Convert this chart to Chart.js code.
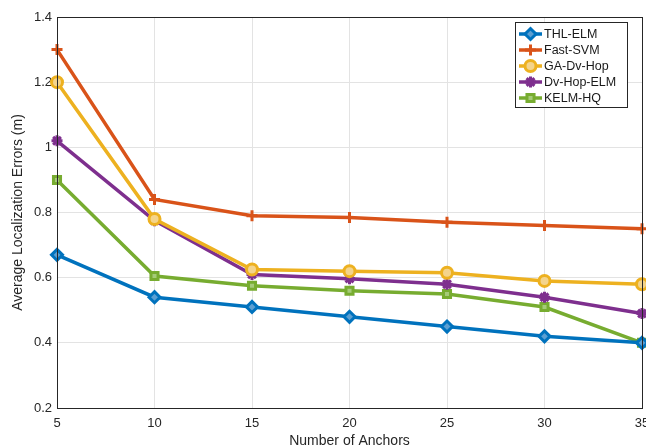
<!DOCTYPE html>
<html>
<head>
<meta charset="utf-8">
<script src="https://cdn.jsdelivr.net/npm/chart.js@4/dist/chart.umd.min.js"></script>
<style>
  html, body { margin: 0; padding: 0; background: #fff; }
  canvas { display: block; }
</style>
</head>
<body>
<canvas id="chart" width="646" height="448"></canvas>
<script>
// number of anchors (x axis)
const anchors = [5, 10, 15, 20, 25, 30, 35];

// average localization errors (m)
const thlElm    = [0.67, 0.54, 0.51, 0.48, 0.45, 0.42, 0.40];
const fastSvm   = [1.30, 0.84, 0.79, 0.785, 0.77, 0.76, 0.75];
const gaDvHop   = [1.20, 0.78, 0.625, 0.62, 0.615, 0.59, 0.58];
const dvHopElm  = [1.02, 0.775, 0.61, 0.597, 0.58, 0.54, 0.49];
const kelmHq    = [0.90, 0.605, 0.575, 0.56, 0.55, 0.51, 0.40];

const seriesNames = ['THL-ELM', 'Fast-SVM', 'GA-Dv-Hop', 'Dv-Hop-ELM', 'KELM-HQ'];
const yTickLabels = ['0.2', '0.4', '0.6', '0.8', '1', '1.2', '1.4'];
const xTickLabels = ['5', '10', '15', '20', '25', '30', '35'];

const colors = ['#0072BD', '#D95319', '#EDB120', '#7E2F8E', '#77AC30'];
const fills  = ['#5c9fd2', '#e38a64', '#f4d48c', '#a97bb3', '#a5cb78'];
const markers = ['rectRot', 'cross', 'circle', 'star', 'rect'];
const radii = [5.5, 5.5, 5.5, 5.5, 5];

const allSeries = [thlElm, fastSvm, gaDvHop, dvHopElm, kelmHq];

const datasets = allSeries.map((vals, i) => ({
  label: seriesNames[i],
  data: anchors.map((a, j) => ({ x: a, y: vals[j] })),
  borderColor: colors[i],
  backgroundColor: fills[i],
  borderWidth: 3.5,
  pointStyle: markers[i],
  pointRadius: radii[i],
  pointBorderWidth: 3,
  pointBorderColor: colors[i],
  pointBackgroundColor: fills[i],
  tension: 0,
  clip: false
}));

// box around the plot and the inside legend
const boxAndLegend = {
  id: 'boxAndLegend',
  afterDraw(chart) {
    const ctx = chart.ctx;
    const a = chart.chartArea;
    ctx.save();
    ctx.strokeStyle = '#262626';
    ctx.lineWidth = 1;
    ctx.strokeRect(Math.round(a.left) + 0.5, Math.round(a.top) + 0.5,
                   Math.round(a.right - a.left), Math.round(a.bottom - a.top));

    // legend
    const lx = 515, ly = 22, lw = 112, lh = 85;
    ctx.fillStyle = '#fff';
    ctx.fillRect(lx, ly, lw, lh);
    ctx.strokeStyle = '#262626';
    ctx.strokeRect(lx + 0.5, ly + 0.5, lw, lh);
    ctx.font = '12.5px "Liberation Sans", Arial, sans-serif';
    ctx.textBaseline = 'middle';
    chart.data.datasets.forEach((ds, i) => {
      const y = ly + 12 + i * 16;
      ctx.strokeStyle = ds.borderColor;
      ctx.lineWidth = 3.5;
      ctx.beginPath();
      ctx.moveTo(lx + 4, y);
      ctx.lineTo(lx + 27, y);
      ctx.stroke();
      ctx.lineWidth = ds.pointBorderWidth;
      ctx.fillStyle = ds.pointBackgroundColor;
      Chart.helpers.drawPoint(ctx, {
        pointStyle: ds.pointStyle, radius: ds.pointRadius,
        borderWidth: ds.pointBorderWidth, rotation: 0
      }, lx + 15.5, y);
      ctx.fillStyle = '#1a1a1a';
      ctx.fillText(ds.label, lx + 29, y + 1);
    });
    ctx.restore();
  }
};

const tickFont = { family: '"Liberation Sans", Arial, sans-serif', size: 13 };
const titleFont = { family: '"Liberation Sans", Arial, sans-serif', size: 14 };

new Chart(document.getElementById('chart'), {
  type: 'line',
  data: { datasets },
  options: {
    responsive: false,
    animation: false,
    layout: { autoPadding: false, padding: { top: 17, right: 4, left: 0, bottom: 0 } },
    plugins: {
      legend: { display: false },
      tooltip: { enabled: false }
    },
    scales: {
      x: {
        type: 'linear',
        min: 5,
        max: 35,
        ticks: {
          stepSize: 5,
          color: '#262626',
          font: tickFont,
          padding: 8,
          maxRotation: 0,
          callback: (v) => xTickLabels[anchors.indexOf(v)] ?? ''
        },
        grid: { color: '#e3e3e3', drawTicks: false },
        border: { display: false },
        title: {
          display: true,
          text: 'Number of Anchors',
          color: '#262626',
          font: titleFont,
          padding: { top: 0, bottom: -1.5 }
        },
        afterFit(scale) {
          scale.height = 40;
          scale.paddingLeft = 0;
          scale.paddingRight = 0;
        }
      },
      y: {
        min: 0.2,
        max: 1.4,
        ticks: {
          stepSize: 0.2,
          color: '#262626',
          font: tickFont,
          padding: 5,
          callback: (v) => {
            const idx = Math.round((v - 0.2) / 0.2);
            return yTickLabels[idx] ?? '';
          }
        },
        grid: { color: '#e3e3e3', drawTicks: false },
        border: { display: false },
        title: {
          display: true,
          text: 'Average Localization Errors (m)',
          color: '#262626',
          font: titleFont,
          padding: { top: 10, bottom: 0 }
        },
        afterFit(scale) {
          scale.width = 57;
          scale.paddingTop = 0;
          scale.paddingBottom = 0;
        }
      }
    }
  },
  plugins: [boxAndLegend]
});
</script>
</body>
</html>
